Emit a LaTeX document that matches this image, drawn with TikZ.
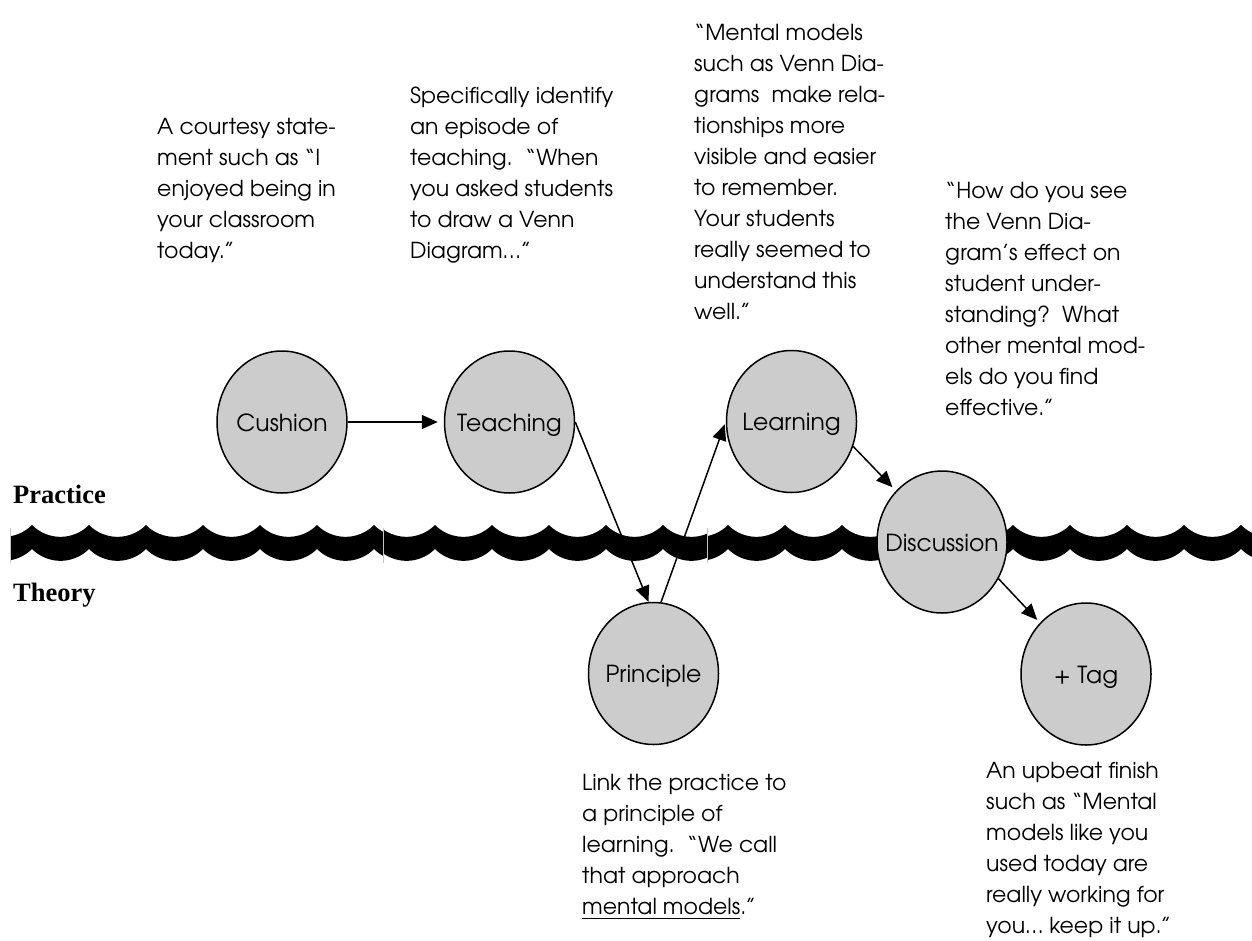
\documentclass[tikz,border=0pt]{standalone}
\usepackage{fontspec}
\setmainfont{texgyreadventor-regular.otf}
\newfontfamily\labelfont{Liberation Serif}
\usetikzlibrary{shapes.geometric,arrows.meta}
\definecolor{nodegray}{HTML}{CCCCCC}
\newcommand{\txtblk}[1]{\vtop{\baselineskip=31pt\lineskip=0pt\lineskiplimit=-100pt\halign{##\hfil\cr#1\crcr}}}
\newcommand{\ulmm}[1]{\setbox0=\hbox{#1}\rlap{\rule[-5pt]{\wd0}{1.5pt}}\box0}
\newcommand{\lbl}[1]{\makebox[0pt][c]{#1}}
\newcommand{\waveband}[2]{% #1 first cusp x, #2 number of arcs
  \fill (#1,525) \foreach \k in {1,...,#2} { .. controls +(15.8,15.8) and +(-15.8,15.8) .. ++(57,0) }
    -- ++(0,24) \foreach \k in {1,...,#2} { .. controls +(-15.8,15.8) and +(15.8,15.8) .. ++(-57,0) } -- cycle;}
\begin{document}
\begin{tikzpicture}[x=1pt,y=-1pt,
  every node/.style={font=\fontsize{22}{31}\selectfont},
  stage/.style={ellipse,draw,line width=1.5pt,fill=nodegray,minimum width=130pt,minimum height=142pt,inner sep=0pt,
    font=\fontsize{23.5}{28}\selectfont,text height=20pt,text depth=2pt},
  note/.style={anchor=base west,inner sep=0pt},
  side/.style={anchor=base west,inner sep=0pt,font=\labelfont\bfseries\fontsize{26.5}{30}\selectfont},
  arr/.style={-{Triangle[length=16pt,width=14pt]},line width=1.5pt},
  seam/.style={draw=gray!45,line width=0.8pt}]
\useasboundingbox (0,0) rectangle (1252,941);
% wavy divider, three pieces
\begin{scope}\clip (10,0) rectangle (383,941); \waveband{-25}{8}\end{scope}
\begin{scope}\clip (383,0) rectangle (707,941); \waveband{378}{6}\end{scope}
\begin{scope}\clip (707,0) rectangle (1252,941); \waveband{671}{11}\end{scope}
\coordinate (s1a) at (10,528); \coordinate (s1b) at (10,563);
\coordinate (s2a) at (383,528); \coordinate (s2b) at (383,563);
\coordinate (s3a) at (707,528); \coordinate (s3b) at (707,563);
\draw[seam] (s1a) -- (s1b); \draw[seam] (s2a) -- (s2b); \draw[seam] (s3a) -- (s3b);
% side labels
\node[side] (practice) at (13,503) {Practice};
\node[side] (theory) at (13,601) {Theory};
% stages
\node[stage] (cushion) at (282,422) {\lbl{Cushion}};
\node[stage] (teaching) at (509.5,422) {\lbl{Teaching}};
\node[stage] (learning) at (791.5,421.5) {\lbl{Learning}};
\node[stage] (discussion) at (942,542) {\lbl{Discussion}};
\node[stage] (principle) at (653.5,673.5) {\lbl{Principle}};
\node[stage] (tag) at (1086,674) {\lbl{+ Tag}};
% connectors
\draw[arr,shorten >=6pt] (cushion.east) -- (teaching.west);
\draw[arr] (teaching.east) -- (principle.94);
\draw[arr,shorten >=3pt] (principle.84) -- (learning.west);
\draw[arr,shorten >=5pt] (learning.-22) -- (discussion.132);
\draw[arr,shorten >=4pt] (discussion.-33) -- (tag.132);
% notes
\node[note] (n1) at (157,135) {\txtblk{A courtesy state-\cr ment such as “I\cr enjoyed being in\cr your classroom\cr today.”}};
\node[note] (n2) at (410,104) {\txtblk{Specifically identify\cr an episode of\cr teaching.\ \ “When\cr you asked students\cr to draw a Venn\cr Diagram…”}};
\node[note] (n3) at (694,41) {\txtblk{“Mental models\cr such as Venn Dia-\cr grams\ \ make rela-\cr tionships more\cr visible and easier\cr to remember.\cr Your students\cr really seemed to\cr understand this\cr well.”}};
\node[note] (n4) at (945,199) {\txtblk{“How do you see\cr the Venn Dia-\cr gram’s effect on\cr student under-\cr standing?\ \ What\cr other mental mod-\cr els do you find\cr effective.”}};
\node[note] (n5) at (582,790) {\txtblk{Link the practice to\cr a principle of\cr learning.\ \ “We call\cr that approach\cr \ulmm{mental models}.”}};
\node[note] (n6) at (986,778) {\txtblk{An upbeat finish\cr such as “Mental\cr models like you\cr used today are\cr really working for\cr you… keep it up.”}};
\end{tikzpicture}
\end{document}
